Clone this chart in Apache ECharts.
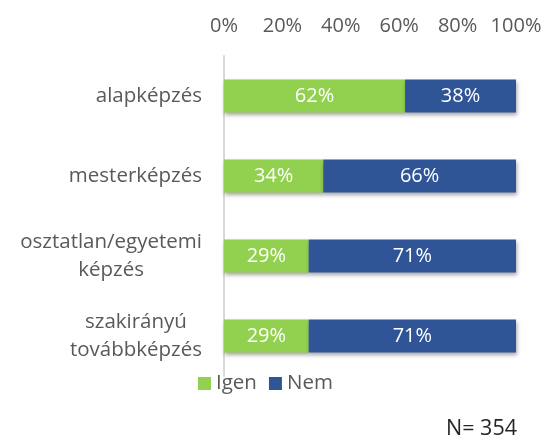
<!DOCTYPE html>
<html>
<head>
<meta charset="utf-8">
<script src="https://cdn.jsdelivr.net/npm/echarts@6/dist/echarts.min.js"></script>
<style>
html,body{margin:0;padding:0;background:#fff;}
#c{width:545px;height:443px;}
</style>
</head>
<body>
<div id="c"></div>
<script>
var categories = ['alapképzés', 'mesterképzés', 'osztatlan/egyetemi\nképzés', 'szakirányú\ntovábbképzés'];
var igenValues = [62, 34, 29, 29];
var nemValues = [38, 66, 71, 71];
var seriesNames = ['Igen', 'Nem'];
var xTicks = [0, 20, 40, 60, 80, 100];
var noteText = 'N= 354';

var FONT = '"Open Sans", sans-serif';
var chart = echarts.init(document.getElementById('c'));
var shadow = {shadowColor: 'rgba(0,0,0,0.35)', shadowBlur: 4, shadowOffsetX: 1, shadowOffsetY: 2};

chart.setOption({
  animation: false,
  backgroundColor: '#ffffff',
  textStyle: {fontFamily: FONT},
  grid: {left: 224, right: 29, top: 56, height: 320, containLabel: false},
  xAxis: {
    type: 'value', position: 'top', min: xTicks[0], max: xTicks[xTicks.length - 1], interval: 20,
    axisLine: {show: false}, axisTick: {show: false}, splitLine: {show: false},
    axisLabel: {formatter: '{value}%', color: '#595959', fontSize: 20, fontFamily: FONT, margin: 20}
  },
  yAxis: {
    type: 'category', data: categories, inverse: true,
    axisLine: {show: true, lineStyle: {color: '#d9d9d9', width: 2}},
    axisTick: {show: false},
    axisLabel: {
      color: '#595959', fontSize: 20.5, fontFamily: FONT, margin: 22, lineHeight: 28,
      formatter: function (v) {
        return v.split('\n').map(function (s) { return '{c|' + s + '}'; }).join('\n');
      },
      rich: {c: {align: 'center', color: '#595959', fontSize: 20.5, fontFamily: FONT, lineHeight: 28}}
    }
  },
  legend: {
    data: seriesNames, left: 198, top: 373, padding: 0, itemWidth: 13, itemHeight: 13, itemGap: 12,
    icon: 'rect',
    textStyle: {color: '#595959', fontSize: 20.5, fontFamily: FONT}
  },
  series: [
    {
      name: seriesNames[0], type: 'bar', stack: 's', data: igenValues, barWidth: 33,
      itemStyle: Object.assign({color: '#92d050'}, shadow),
      label: {show: true, position: 'inside', formatter: '{c}%', color: '#ffffff', fontSize: 20, fontFamily: FONT}
    },
    {
      name: seriesNames[1], type: 'bar', stack: 's', data: nemValues, barWidth: 33,
      itemStyle: Object.assign({color: '#2f5597'}, shadow),
      label: {show: true, position: 'inside', formatter: '{c}%', color: '#ffffff', fontSize: 20, fontFamily: FONT}
    }
  ],
  graphic: [{
    type: 'text', right: 28, top: 418,
    style: {text: noteText, fill: '#262626', fontSize: 21.5, fontFamily: FONT}
  }]
});
</script>
</body>
</html>
